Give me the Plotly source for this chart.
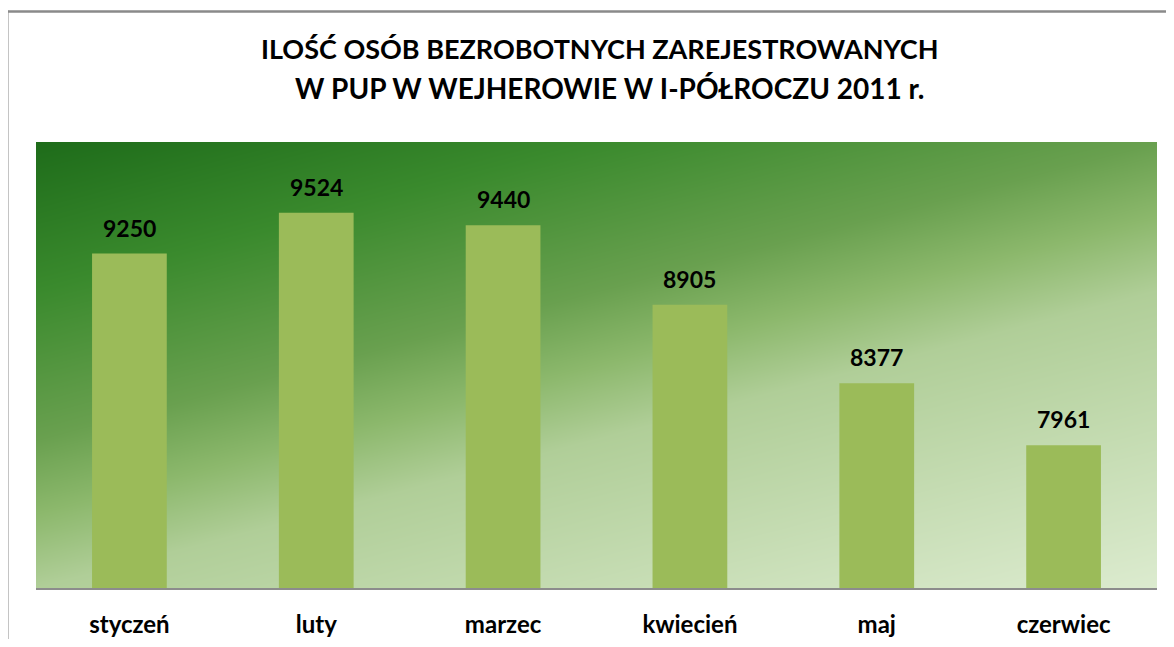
import numpy as np
import plotly.graph_objects as go

months = ["styczeń", "luty", "marzec", "kwiecień", "maj", "czerwiec"]
values = [9250, 9524, 9440, 8905, 8377, 7961]
title_line1 = "ILOŚĆ OSÓB BEZROBOTNYCH ZAREJESTROWANYCH"
title_line2 = "W PUP W WEJHEROWIE W I-PÓŁROCZU 2011 r."

Y_MIN, Y_MAX = 7000, 10000
OFF = 8  # default page body margin
W, H = 1174 - 2 * OFF, 647 - 2 * OFF
L, T = 36 - OFF, 142 - OFF
R = W - (1157 - OFF)
B = H - (588 - OFF)
pw, ph = W - L - R, H - T - B

xs = list(range(len(months)))

# background gradient (styling only)
gx = np.linspace(-0.5, len(months) - 0.5, 60)
gy = np.linspace(Y_MIN, Y_MAX, 60)
xn = (gx - gx[0]) / (gx[-1] - gx[0])
yn = (Y_MAX - gy) / (Y_MAX - Y_MIN)
Z = 0.4 * xn[None, :] + 0.6 * yn[:, None]
grad_scale = [
    [0.0, "#1E6C1A"],
    [0.2, "#3A8A2D"],
    [0.4, "#69A04F"],
    [0.5, "#8CB86C"],
    [0.6, "#B0CE98"],
    [1.0, "#DCEBCF"],
]

fig = go.Figure()
fig.add_trace(go.Heatmap(
    x=gx, y=gy, z=Z, colorscale=grad_scale, zmin=0, zmax=1,
    showscale=False, zsmooth="best", hoverinfo="skip"))
fig.add_trace(go.Bar(
    x=xs, y=values, marker=dict(color="#9BBB59", line=dict(width=0)),
    width=0.4, hoverinfo="x+y"))

for xi, v in zip(xs, values):
    fig.add_annotation(x=xi, y=v, text=f"<b>{v}</b>", showarrow=False,
                       yanchor="bottom", yshift=10,
                       font=dict(family="Lato", size=23, color="#000000"))


def px_to_paper_x(px):
    return (px - OFF - L) / pw


def px_to_paper_y(py):
    return (H - B - (py - OFF)) / ph


# title lines (centered on reference pixel positions)
fig.add_annotation(text=f"<b>{title_line1}</b>", xref="paper", yref="paper",
                   x=px_to_paper_x(600), y=px_to_paper_y(49), xanchor="center", yanchor="middle",
                   showarrow=False, font=dict(family="Lato", size=27, color="#000000"))
fig.add_annotation(text=f"<b>{title_line2}</b>", xref="paper", yref="paper",
                   x=px_to_paper_x(609), y=px_to_paper_y(88), xanchor="center", yanchor="middle",
                   showarrow=False, font=dict(family="Lato", size=28, color="#000000"))

fig.update_layout(
    width=W, height=H,
    margin=dict(l=L, r=R, t=T, b=B, autoexpand=False),
    paper_bgcolor="white", plot_bgcolor="white",
    showlegend=False,
    xaxis=dict(range=[-0.5, len(months) - 0.5], tickvals=xs, ticktext=[f"<b>{m}</b>" for m in months],
               showgrid=False, zeroline=False, showline=True, linecolor="#8C8C8C", linewidth=1.5,
               ticks="outside", ticklen=14, tickcolor="rgba(0,0,0,0)", automargin=False,
               tickfont=dict(family="Lato", size=24, color="#000000")),
    yaxis=dict(range=[Y_MIN, Y_MAX], showgrid=False, zeroline=False, showticklabels=False,
               showline=False, automargin=False),
)

# outer frame (top and left edges visible in the window)
fig.add_shape(type="line", xref="paper", yref="paper",
              x0=px_to_paper_x(6.5), x1=px_to_paper_x(1180),
              y0=px_to_paper_y(11.5), y1=px_to_paper_y(11.5),
              line=dict(color="#8A8A8A", width=2.5), layer="above")
fig.add_shape(type="line", xref="paper", yref="paper",
              x0=px_to_paper_x(7.5), x1=px_to_paper_x(7.5),
              y0=px_to_paper_y(10.5), y1=px_to_paper_y(660),
              line=dict(color="#8A8A8A", width=2), layer="above")

fig.write_html("out.html")
